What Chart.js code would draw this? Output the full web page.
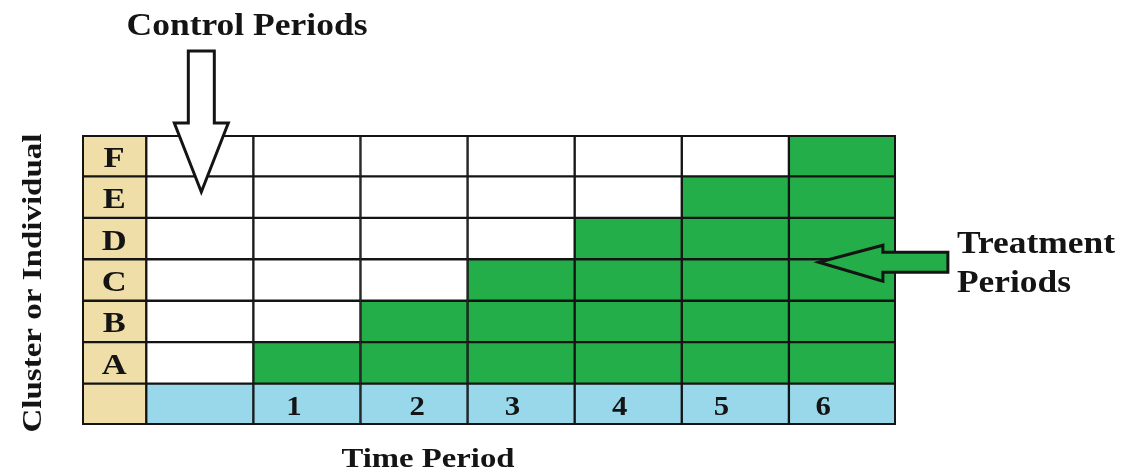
<!DOCTYPE html>
<html>
<head>
<meta charset="utf-8">
<script src="https://cdn.jsdelivr.net/npm/chart.js@4/dist/chart.umd.min.js"></script>
<style>
html,body{margin:0;padding:0;background:#fff;}
#wrap{width:1125px;height:474px;position:relative;}
</style>
</head>
<body>
<div id="wrap"><canvas id="c" width="1125" height="474"></canvas></div>
<script>
// ---- data ----
const rowLabels = ['F', 'E', 'D', 'C', 'B', 'A', ''];      // top to bottom
const clusters = ['A', 'B', 'C', 'D', 'E', 'F'];
const treatmentStart = [1, 2, 3, 4, 5, 6];                 // first treated period per cluster
const periods = [0, 1, 2, 3, 4, 5, 6];
const periodLabels = ['', '1', '2', '3', '4', '5', '6'];

const titleTop = 'Control Periods';
const titleBottom = 'Time Period';
const titleLeft = 'Cluster or Individual';
const noteRight = ['Treatment', 'Periods'];

// ---- layout (not data) ----
const labelColWidth = 0.6;                                  // width of the letter column in period units
const numberOffsets = [0.5, 0.38, 0.53, 0.42, 0.42, 0.37, 0.32]; // where each period number sits inside its cell

const GREEN = '#23ae4a', WHITE = '#ffffff', BLUE = '#99d8ea', BEIGE = '#efdea8', INK = '#141414';

function cellColor(row, k) {
  if (row === '') return BLUE;
  const s = treatmentStart[clusters.indexOf(row)];
  return k >= s ? GREEN : WHITE;
}

const datasets = [{
  label: 'labels',
  data: rowLabels.map(() => [0, labelColWidth]),
  backgroundColor: BEIGE
}].concat(periods.map(k => ({
  label: 'period ' + k,
  data: rowLabels.map(() => [labelColWidth + k, labelColWidth + k + 1]),
  backgroundColor: rowLabels.map(r => cellColor(r, k))
})));

function txt(ctx, s, x, y, size, width, align, rot) {
  ctx.save();
  ctx.font = 'bold ' + size + 'px "Liberation Serif", "DejaVu Serif", serif';
  const w = ctx.measureText(s).width;
  ctx.translate(x, y);
  if (rot) ctx.rotate(rot);
  ctx.scale(width / w, 1);
  ctx.textAlign = align;
  ctx.textBaseline = 'alphabetic';
  ctx.fillStyle = INK;
  ctx.fillText(s, 0, 0);
  ctx.restore();
}

const overlay = {
  id: 'overlay',
  afterDatasetsDraw(chart) {
    const ctx = chart.ctx, xs = chart.scales.x, ys = chart.scales.y, ca = chart.chartArea;
    const rowH = (ca.bottom - ca.top) / rowLabels.length;
    // outer frame
    ctx.save();
    ctx.strokeStyle = INK; ctx.lineWidth = 2;
    ctx.strokeRect(ca.left + 1, ca.top + 1, ca.right - ca.left - 2, ca.bottom - ca.top - 2);
    ctx.restore();
    // row letters
    rowLabels.forEach((r, i) => {
      if (!r) return;
      const y = ys.getPixelForValue(i);
      ctx.save();
      ctx.font = 'bold 30px "Liberation Serif"';
      const w = ctx.measureText(r).width * 1.15;
      ctx.restore();
      txt(ctx, r, xs.getPixelForValue(labelColWidth / 2), y + 11, 30, w, 'center');
    });
    // period numbers
    const yb = ys.getPixelForValue(rowLabels.length - 1);
    periods.forEach((k, i) => {
      const s = periodLabels[i];
      if (!s) return;
      ctx.save(); ctx.font = 'bold 28px "Liberation Serif"';
      const w = ctx.measureText(s).width * 1.1; ctx.restore();
      txt(ctx, s, xs.getPixelForValue(labelColWidth + k + numberOffsets[i]), yb + 11, 28, w, 'center');
    });
    // control arrow (white, pointing down into period 0 column)
    const cx = xs.getPixelForValue(labelColWidth + 0.5) + 1.5;
    const topY = ca.top;
    ctx.save();
    ctx.beginPath();
    ctx.moveTo(cx - 13, topY - 84);
    ctx.lineTo(cx + 13, topY - 84);
    ctx.lineTo(cx + 13, topY - 12);
    ctx.lineTo(cx + 27, topY - 12);
    ctx.lineTo(cx, topY + 57);
    ctx.lineTo(cx - 27, topY - 12);
    ctx.lineTo(cx - 13, topY - 12);
    ctx.closePath();
    ctx.fillStyle = WHITE; ctx.fill();
    ctx.lineWidth = 3; ctx.lineJoin = 'miter'; ctx.strokeStyle = INK; ctx.stroke();
    ctx.restore();
    // treatment arrow (green, pointing left into last column)
    const tipX = xs.getPixelForValue(labelColWidth + 6 + 0.28);
    const tipY = ys.getPixelForValue(3) - rowH / 2 + 3;
    ctx.save();
    ctx.beginPath();
    ctx.moveTo(tipX, tipY);
    ctx.lineTo(tipX + 64, tipY - 17);
    ctx.lineTo(tipX + 64, tipY - 10);
    ctx.lineTo(tipX + 129, tipY - 10);
    ctx.lineTo(tipX + 129, tipY + 10);
    ctx.lineTo(tipX + 64, tipY + 10);
    ctx.lineTo(tipX + 64, tipY + 19);
    ctx.closePath();
    ctx.fillStyle = GREEN; ctx.fill();
    ctx.lineWidth = 3; ctx.strokeStyle = INK; ctx.stroke();
    ctx.restore();
    // titles
    txt(ctx, titleTop, 247, 35, 31, 241, 'center');
    txt(ctx, titleBottom, (ca.left + ca.right) / 2 - 61, 467, 27, 173, 'center');
    txt(ctx, titleLeft, 41, (ca.top + ca.bottom) / 2 + 3, 28, 299, 'center', -Math.PI / 2);
    txt(ctx, noteRight[0], 957, 253, 31, 158, 'left');
    txt(ctx, noteRight[1], 957, 292, 31, 114, 'left');
  }
};

new Chart(document.getElementById('c'), {
  type: 'bar',
  data: { labels: rowLabels, datasets },
  options: {
    indexAxis: 'y',
    responsive: false,
    animation: false,
    grouped: false,
    layout: { padding: { left: 82, right: 229, top: 135, bottom: 49 } },
    datasets: { bar: { barPercentage: 1, categoryPercentage: 1, borderColor: INK, borderWidth: 1.5, borderSkipped: false, grouped: false } },
    scales: {
      x: { type: 'linear', min: 0, max: labelColWidth + periods.length, display: false },
      y: { type: 'category', display: false }
    },
    plugins: { legend: { display: false }, tooltip: { enabled: false }, title: { display: false } }
  },
  plugins: [overlay]
});
</script>
</body>
</html>
